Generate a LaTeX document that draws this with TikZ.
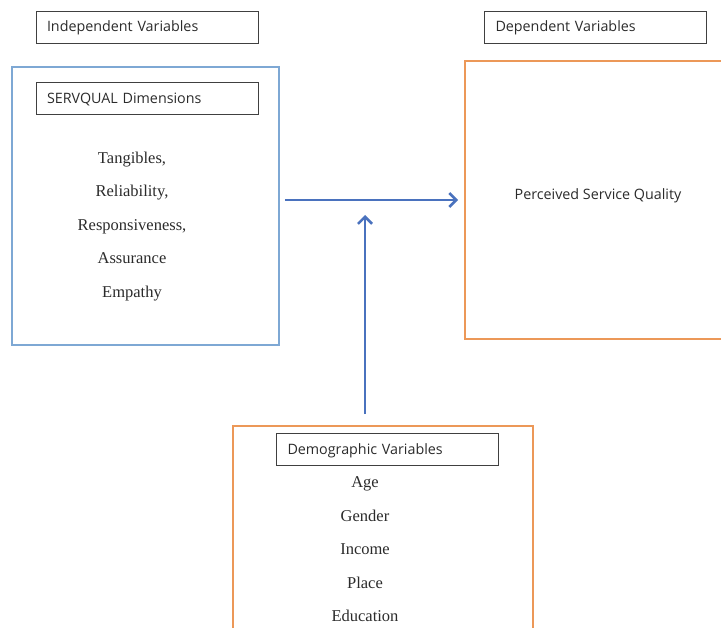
\documentclass[tikz,border=0pt]{standalone}
\usepackage{fontspec}
\setmainfont{Liberation Serif}
\setsansfont{Open Sans}
\usetikzlibrary{arrows.meta,positioning}
\definecolor{FrameBlue}{HTML}{7EA8D4}
\definecolor{FrameOrange}{HTML}{EC9858}
\definecolor{ArrowBlue}{HTML}{4A72BE}
\definecolor{InkGray}{HTML}{2B2B2B}

\begin{document}
\begin{tikzpicture}[x=1pt,y=-1pt,
tag/.style={draw=black!75,line width=0.9pt,text width=200pt,align=left,inner xsep=11pt,minimum height=32pt,text height=10pt,text depth=0.5pt,font=\sffamily\fontsize{14.3}{16}\selectfont,text=InkGray},
frame/.style={line width=1.7pt,inner sep=0pt},
items/.style={align=center,font=\fontsize{16.5}{33.5}\selectfont,text=InkGray},
arr/.style={ArrowBlue,line width=2.6pt,-{Straight Barb[length=7pt,width=14pt]}}]
\useasboundingbox (0,0) rectangle (721,628);
\clip (0,0) rectangle (721,628);
% headings
\node[tag] (indep) at (147,27) {Independent Variables};
\node[tag] (dep) at (595.5,27) {Dependent Variables};
% independent block
\node[frame,draw=FrameBlue,minimum width=267pt,minimum height=278pt] (servframe) at (145.5,206) {};
\node[tag,below=16pt of servframe.north,xshift=1.5pt] (serv) {SERVQUAL Dimensions};
\node[items] (servitems) at (132,226.5) {Tangibles,\\Reliability,\\Responsiveness,\\Assurance\\Empathy};
% dependent block
\node[frame,draw=FrameOrange,minimum width=266pt,minimum height=278pt] (percframe) at (598,200) {};
\node[font=\sffamily\fontsize{14.3}{16}\selectfont,text=InkGray] (perc) at (598,195.5) {Perceived Service Quality};
% moderating block
\node[frame,draw=FrameOrange,minimum width=300pt,minimum height=260pt] (demoframe) at (383,556) {};
\node[tag,anchor=north] (demo) at (387.5,433) {Demographic Variables};
\node[items] (demoitems) at (365,549.5) {Age\\Gender\\Income\\Place\\Education};
% links
\coordinate (meet) at (365,215);
\draw[arr] ([xshift=5pt]servframe.east |- percframe.west) -- ([xshift=-6pt]percframe.west);
\draw[arr] ([yshift=11pt]demoframe.north -| demoitems) -- (meet);
\end{tikzpicture}
\end{document}
